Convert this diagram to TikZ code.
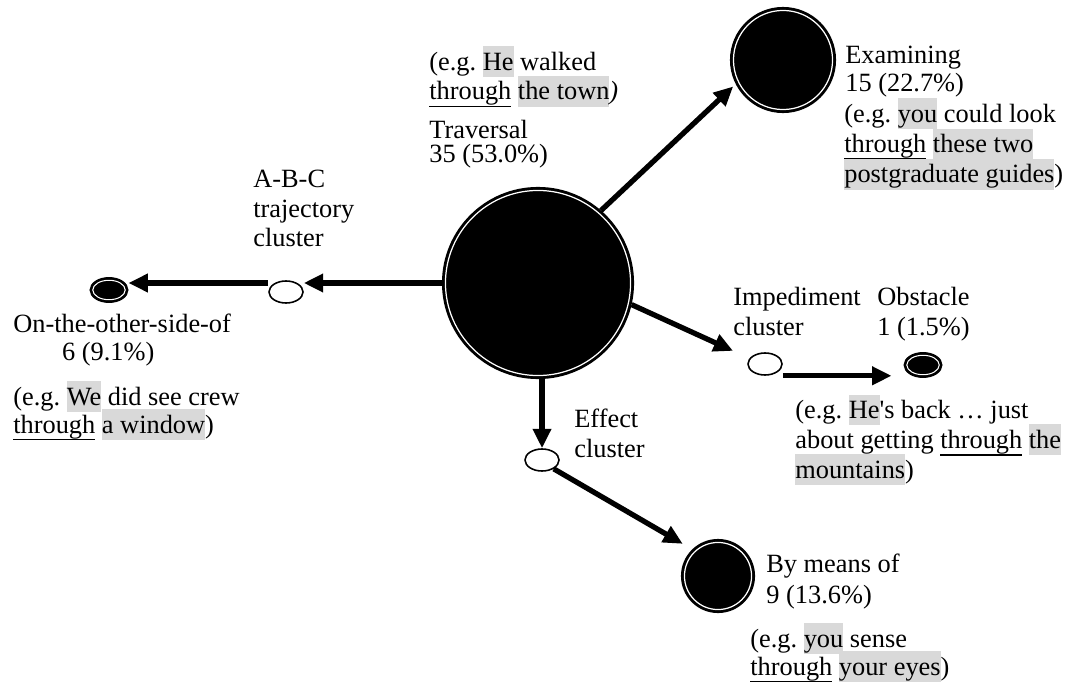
\documentclass[tikz,border=0pt]{standalone}
\usepackage{fontspec}
\setmainfont{Liberation Serif}
\usepackage{xcolor}
\usepackage{tikz}
\usetikzlibrary{arrows.meta, shapes.geometric}
\definecolor{hlgray}{HTML}{D9D9D9}
\newcommand{\hl}[1]{{\setlength{\fboxsep}{0pt}\colorbox{hlgray}{\rule[-0.27em]{0pt}{1.17em}#1}}}
\newcommand{\undl}[1]{{\setbox0\hbox{#1}\rlap{\rule[-0.28em]{\wd0}{0.07em}}\box0}}
\newcommand{\lblfont}[1]{\fontsize{15}{#1}\selectfont\frenchspacing\setlength{\lineskiplimit}{-20pt}}

\begin{document}
\begin{tikzpicture}[
  big/.style={circle, draw=black, line width=1.2pt, fill=black, inner sep=0pt, minimum size=#1,
    path picture={\draw[white, line width=0.7pt] (path picture bounding box.center) circle ({#1/2-1.4pt});}},
  dot/.style={ellipse, draw=black, line width=1.1pt, fill=black, inner sep=0pt, minimum width=0.74cm, minimum height=0.48cm,
    path picture={\draw[white, line width=0.6pt] (path picture bounding box.center) ellipse [x radius=0.37cm-1.3pt, y radius=0.24cm-1.3pt];}},
  hub/.style={ellipse, draw, line width=0.9pt, fill=white, inner sep=0pt, minimum width=0.68cm, minimum height=0.44cm},
  lbl/.style={anchor=base west, align=left, inner sep=0pt, font=\lblfont{17}},
  arr/.style={-{Triangle[length=11pt, width=10pt]}, line width=3pt}
]
  \useasboundingbox (0,0) rectangle (21.46,-13.66);

  \node[big=3.8cm] (trav) at (10.76,-5.66) {};
  \node[big=2.08cm] (exam) at (15.66,-1.2) {};
  \node[big=1.44cm] (bym) at (14.36,-11.52) {};
  \node[dot] (other) at (2.18,-5.8) {};
  \node[dot] (obst) at (18.46,-7.3) {};
  \node[hub] (abc) at (5.72,-5.84) {};
  \node[hub] (imp) at (15.3,-7.28) {};
  \node[hub] (eff) at (10.84,-9.2) {};

  \draw[arr, shorten >=2pt] (trav.49) -- (exam.207);
  \draw[arr] (trav.west) -- (trav.west -| abc.east);
  \draw[arr] (trav.west -| abc.west) -- (trav.west -| other.east);
  \draw[arr, shorten >=0.36cm] (trav.-13) -- (imp.160);
  \draw[arr, shorten >=0.24cm] (imp.east |- imp.south) -- (obst.west |- imp.south);
  \draw[arr] (trav.south -| eff) -- (eff.north);
  \draw[arr, shorten >=0.22cm] (eff.-37) -- (bym.134);

  \node[lbl] (egtrav) at (8.58,-2.00) {(e.g. \hl{He} walked\\\undl{through} \hl{the town}\textit{)}};
  \node[lbl, font=\lblfont{14.2}] (travtxt) at (8.58,-3.26) {Traversal\\35 (53.0\%)};
  \node[lbl, font=\lblfont{16.5}] (examtxt) at (16.90,-1.84) {Examining\\15 (22.7\%)};
  \node[lbl, font=\lblfont{17.3}] (egexam) at (16.88,-3.66) {(e.g. \hl{you} could look\\\undl{through} \hl{these two}\\\hl{postgraduate guides})};
  \node[lbl] (abctxt) at (5.06,-4.94) {A-B-C\\trajectory\\cluster};
  \node[lbl, font=\lblfont{15.9}] (othertxt) at (0.26,-7.20) {On-the-other-side-of\\\hspace*{1.85em}6 (9.1\%)};
  \node[lbl, font=\lblfont{15.9}] (egother) at (0.26,-8.66) {(e.g. \hl{We} did see crew\\\undl{through} \hl{a window})};
  \node[lbl] (imptxt) at (14.66,-6.70) {Impediment\\cluster};
  \node[lbl] (obsttxt) at (17.54,-6.70) {Obstacle\\1 (1.5\%)};
  \node[lbl] (egobst) at (15.9,-9.56) {(e.g. \hl{He}\textquotesingle s back \ldots{} just\\about getting \undl{through} \hl{the}\\\hl{mountains})};
  \node[lbl] (efftxt) at (11.48,-9.14) {Effect\\cluster};
  \node[lbl, font=\lblfont{17.6}] (bymtxt) at (15.32,-12.06) {By means of\\9 (13.6\%)};
  \node[lbl, font=\lblfont{15.9}] (egbym) at (15.0,-13.50) {(e.g. \hl{you} sense\\\undl{through} \hl{your eyes})};
\end{tikzpicture}
\end{document}
